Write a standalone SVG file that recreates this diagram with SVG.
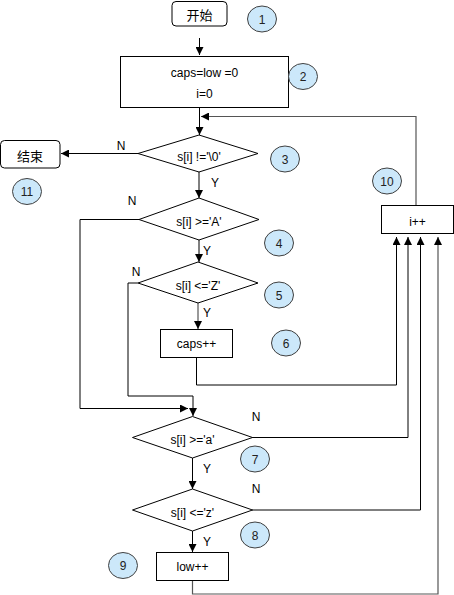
<svg xmlns="http://www.w3.org/2000/svg" width="454" height="595" viewBox="0 0 454 595">
<defs>
<marker id="ah" markerUnits="userSpaceOnUse" markerWidth="8" markerHeight="8" viewBox="0 0 8 8" refX="8" refY="4" orient="auto">
<path d="M0,0 L8,4 L0,8 Z" fill="#000"/>
</marker>
</defs>
<style>
.box{fill:#fff;stroke:#000;stroke-width:1}
.dia{fill:#fff;stroke:#000;stroke-width:1}
.num{fill:#cce8fa;stroke:#404040;stroke-width:1}
.t{font-family:"Liberation Sans",Arial,sans-serif;font-size:12px;fill:#000;text-anchor:middle;dominant-baseline:central}
.cjk{font-family:"Noto Sans CJK SC",sans-serif;font-size:13px;fill:#000;text-anchor:middle;dominant-baseline:central}
.nt{font-family:"Liberation Sans",Arial,sans-serif;font-size:12px;fill:#222;text-anchor:middle;dominant-baseline:central}
.c{fill:none;stroke:#000;stroke-width:1}
.g{fill:none;stroke:#555;stroke-width:1.2}
</style>
<g id="connectors">
<path class="c" d="M199.5,38 V55" marker-end="url(#ah)"/>
<path class="c" d="M199.5,107 V135" marker-end="url(#ah)"/>
<path class="g" d="M416,205 V116.5 H201" marker-end="url(#ah)"/>
<path class="c" d="M138,153.5 H61" marker-end="url(#ah)"/>
<path class="c" d="M199,172 V198" marker-end="url(#ah)"/>
<path class="c" d="M199,240 V262" marker-end="url(#ah)"/>
<path class="g" d="M198,303 V329" marker-end="url(#ah)"/>
<path class="c" d="M139,219.5 H80 V408.5 H188" marker-end="url(#ah)"/>
<path class="c" d="M138,283 H128 V396 H193 V416" marker-end="url(#ah)"/>
<path class="c" d="M196.5,357 V385 H396.5 V237" marker-end="url(#ah)"/>
<path class="c" d="M252,437.5 H408 V237" marker-end="url(#ah)"/>
<path class="c" d="M192.5,458 V489" marker-end="url(#ah)"/>
<path class="c" d="M252,510 H420.5 V237" marker-end="url(#ah)"/>
<path class="c" d="M192.5,531 V552" marker-end="url(#ah)"/>
<path class="g" d="M192.5,581 V594 H438 V237" marker-end="url(#ah)"/>
<text class="t" x="121" y="146">N</text>
<text class="t" x="215" y="183">Y</text>
<text class="t" x="132" y="201">N</text>
<text class="t" x="207" y="251">Y</text>
<text class="t" x="136" y="272">N</text>
<text class="t" x="207" y="313">Y</text>
<text class="t" x="256" y="417">N</text>
<text class="t" x="207" y="469">Y</text>
<text class="t" x="256" y="489">N</text>
<text class="t" x="207" y="542">Y</text>
</g>
<g id="n-start">
<rect class="box" x="172" y="1.5" width="55" height="24.5" rx="4"/>
<text class="cjk" x="199.5" y="14">开始</text>
</g>
<g id="n-init">
<rect class="box" x="120.5" y="56.5" width="168" height="51"/>
<text class="t" x="204.5" y="73">caps=low =0</text>
<text class="t" x="204.5" y="93.5">i=0</text>
</g>
<g id="n-d3">
<polygon class="dia" points="199,135 258,153.5 199,172 138,153.5"/>
<text class="t" x="199" y="157">s[i] !='\0'</text>
</g>
<g id="n-end">
<rect class="box" x="0.5" y="140.5" width="59.5" height="27.5" rx="4"/>
<text class="cjk" x="30" y="155">结束</text>
</g>
<g id="n-d4">
<polygon class="dia" points="199,198 259,219.5 199,240 139,219.5"/>
<text class="t" x="199" y="222">s[i] &gt;='A'</text>
</g>
<g id="n-d5">
<polygon class="dia" points="198,262 258,283 198,303 138,283"/>
<text class="t" x="198" y="285.5">s[i] &lt;='Z'</text>
</g>
<g id="n-caps">
<rect class="box" x="160.5" y="329.5" width="72" height="28"/>
<text class="t" x="196.5" y="344">caps++</text>
</g>
<g id="n-inc">
<rect class="box" x="381.5" y="205.5" width="72" height="28"/>
<text class="t" x="417.5" y="222">i++</text>
</g>
<g id="n-d7">
<polygon class="dia" points="192.5,416.5 252.5,437.5 192.5,458 132.5,437.5"/>
<text class="t" x="192.5" y="440">s[i] &gt;='a'</text>
</g>
<g id="n-d8">
<polygon class="dia" points="192.5,489 252.5,510 192.5,531 132.5,510"/>
<text class="t" x="192.5" y="512.5">s[i] &lt;='z'</text>
</g>
<g id="n-low">
<rect class="box" x="156.5" y="552.5" width="72" height="28"/>
<text class="t" x="192.5" y="567">low++</text>
</g>
<g id="labels">
<ellipse class="num" cx="262" cy="19" rx="14.5" ry="13"/><text class="nt" x="262" y="19.5">1</text>
<ellipse class="num" cx="303" cy="76.5" rx="14.5" ry="13"/><text class="nt" x="303" y="77">2</text>
<ellipse class="num" cx="285" cy="159" rx="14.5" ry="13"/><text class="nt" x="285" y="159.5">3</text>
<ellipse class="num" cx="279" cy="243" rx="14.5" ry="13"/><text class="nt" x="279" y="243.5">4</text>
<ellipse class="num" cx="279" cy="295" rx="14.5" ry="13"/><text class="nt" x="279" y="295.5">5</text>
<ellipse class="num" cx="286" cy="343" rx="14.5" ry="13"/><text class="nt" x="286" y="343.5">6</text>
<ellipse class="num" cx="255" cy="459" rx="14.5" ry="13"/><text class="nt" x="255" y="459.5">7</text>
<ellipse class="num" cx="255" cy="535" rx="14.5" ry="13"/><text class="nt" x="255" y="535.5">8</text>
<ellipse class="num" cx="123" cy="565.5" rx="14.5" ry="13"/><text class="nt" x="123" y="566">9</text>
<ellipse class="num" cx="387" cy="181" rx="14.5" ry="13"/><text class="nt" x="387" y="181.5">10</text>
<ellipse class="num" cx="27" cy="191.5" rx="14.5" ry="13"/><text class="nt" x="27" y="192">11</text>
</g>
</svg>
